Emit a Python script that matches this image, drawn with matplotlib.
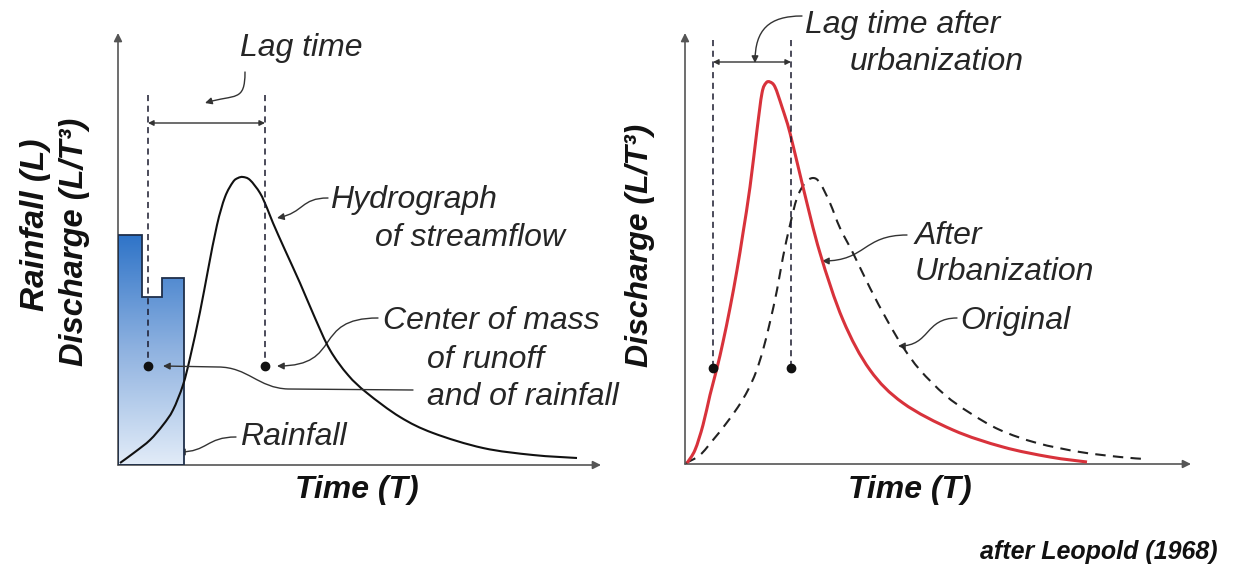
import numpy as np
import matplotlib
matplotlib.use("Agg")
import matplotlib.pyplot as plt
from matplotlib.path import Path
from matplotlib.patches import FancyArrowPatch, Polygon, PathPatch

plt.rcParams['font.family'] = ['Liberation Sans', 'DejaVu Sans']

# ---- data (arbitrary time / discharge units) ----
rain_edges = [0, 2.4, 4.4, 6.6]
rain_depth = [23.0, 16.8, 18.7]

hydro_t = [0.2, 1.7, 3.2, 4.5, 5.5, 6.5, 7.2, 8.2, 9.0, 9.9, 10.7, 11.5, 12.0, 12.5,
           13.2, 14.2, 14.9, 15.5, 16.7, 18.2, 19.7, 21.2, 23.0, 24.9, 28.2, 31.5,
           36.5, 41.5, 45.9]
hydro_q = [0.2, 1.3, 2.5, 4.0, 5.5, 8.0, 10.7, 15.3, 19.5, 24.0, 26.8, 28.3, 28.7, 28.8,
           28.5, 27.2, 25.7, 24.2, 21.5, 18.2, 14.7, 11.5, 9.0, 7.2, 4.8, 3.2,
           1.7, 1.0, 0.7]

urban_t = [0.2, 1.0, 1.8, 2.5, 3.2, 3.8, 4.5, 5.2, 5.8, 6.5, 7.2, 7.7, 8.1, 8.5,
           9.0, 9.7, 10.5, 11.8, 13.5, 15.8, 18.5, 21.8, 26.8, 31.8, 36.5, 40.2]
urban_q = [0.1, 1.4, 3.9, 6.9, 9.6, 12.2, 15.6, 19.4, 23.1, 27.7, 33.4, 37.1, 38.1, 38.2,
           37.7, 35.7, 33.1, 27.7, 21.1, 14.4, 9.4, 6.1, 3.4, 1.7, 0.7, 0.2]

orig_t = [0.1, 1.5, 2.8, 4.0, 5.3, 6.3, 7.1, 7.8, 8.5, 9.2, 9.8, 10.5, 11.2, 12.0, 12.8,
          13.5, 14.5, 15.5, 16.8, 18.5, 20.2, 21.8, 23.5, 26.0, 28.5, 31.5, 35.2,
          39.5, 43.5, 46.0]
orig_q = [0.1, 0.9, 2.4, 3.9, 5.7, 7.4, 9.2, 11.4, 14.2, 17.4, 20.7, 23.9, 26.6, 28.1, 28.6,
          28.1, 26.1, 23.6, 21.1, 17.6, 14.4, 11.7, 9.4, 6.9, 5.1, 3.4, 2.1,
          1.2, 0.7, 0.5]

# centres of mass (rainfall, runoff) used for the lag bars
lag_left = [3.0, 14.7]
lag_right = [2.8, 10.6]

W, H = 1245, 569
fig = plt.figure(figsize=(W / 100, H / 100), dpi=100)

TXT = '#262626'
AX = '#555555'
fs = 23


def make_ax(x0, x1, y0, y1):
    ax = fig.add_axes([x0 / W, (H - y0) / H, (x1 - x0) / W, (y0 - y1) / H])
    ax.set_xlim(0, (x1 - x0) / 10)
    ax.set_ylim(0, (y0 - y1) / 10)
    ax.axis('off')
    for xy in [(0, 1), (1, 0)]:
        ax.annotate('', xy=xy, xytext=(0, 0), xycoords='axes fraction',
                    arrowprops=dict(arrowstyle='-|>', color=AX, lw=1.2, mutation_scale=12,
                                    shrinkA=0, shrinkB=0))
    return ax


def smooth_curve(ax, xs, ys, **kw):
    # smooth line through the read points (Catmull-Rom as cubic Bezier segments)
    p = np.column_stack([xs, ys]).astype(float)
    ext = np.vstack([p[0], p, p[-1]])
    verts = [tuple(p[0])]
    codes = [Path.MOVETO]
    for i in range(1, len(ext) - 2):
        c1 = ext[i] + (ext[i + 1] - ext[i - 1]) / 6
        c2 = ext[i + 1] - (ext[i + 2] - ext[i]) / 6
        verts += [tuple(c1), tuple(c2), tuple(ext[i + 1])]
        codes += [Path.CURVE4] * 3
    ax.add_patch(PathPatch(Path(verts, codes), facecolor='none', **kw))


def squiggle(ax, p0, p3, tan0=(1, 0), tan1=(1, 0), k=0.5, lw=1.0):
    # S-shaped leader line with an arrow head at p3
    d = np.hypot(p3[0] - p0[0], p3[1] - p0[1]) * k
    p1 = (p0[0] + tan0[0] * d, p0[1] + tan0[1] * d)
    p2 = (p3[0] - tan1[0] * d, p3[1] - tan1[1] * d)
    path = Path([p0, p1, p2, p3], [Path.MOVETO, Path.CURVE4, Path.CURVE4, Path.CURVE4])
    ax.add_patch(FancyArrowPatch(path=path, arrowstyle='-|>', mutation_scale=10,
                                 color='#333333', lw=lw, clip_on=False))


def lag_marks(ax, xs, top, dot_y, bar_y):
    for x in xs:
        ax.plot([x, x], [top, dot_y], ls=(0, (4, 3)), color='#1a1a2e', lw=1.1, zorder=4)
        ax.plot(x, dot_y, 'o', color='#111111', ms=6, zorder=5)
    ax.annotate('', xy=(xs[1], bar_y), xytext=(xs[0], bar_y),
                arrowprops=dict(arrowstyle='<|-|>', color='#333333', lw=1.0,
                                mutation_scale=8, shrinkA=0, shrinkB=0))


def label(ax, x, y, s, **kw):
    ax.text(x, y, s, style='italic', fontsize=fs, color=TXT, va='center', **kw)


# ---------------- left panel ----------------
axl = make_ax(118, 601, 465, 33)

# rainfall hyetograph with vertical gradient
outline = [(rain_edges[0], 0)]
for i, d in enumerate(rain_depth):
    outline += [(rain_edges[i], d), (rain_edges[i + 1], d)]
outline += [(rain_edges[-1], 0)]
poly = Polygon(outline, closed=True, facecolor='none', edgecolor='#1f2f4a', lw=1.3, zorder=3)
axl.add_patch(poly)
grad = np.linspace(0, 1, 256).reshape(-1, 1)
cmap = matplotlib.colors.LinearSegmentedColormap.from_list('rain', ['#e2ecf8', '#8fb2e0', '#2f74c8'])
im = axl.imshow(grad, cmap=cmap, origin='lower', aspect='auto',
                extent=[0, rain_edges[-1], 0, max(rain_depth)], zorder=2)
im.set_clip_path(poly)

smooth_curve(axl, hydro_t, hydro_q, edgecolor='#111111', lw=1.5, zorder=4)

lag_marks(axl, lag_left, 37.0, 9.9, 34.2)

label(axl, 18.3, 41.7, 'Lag time', ha='center')
squiggle(axl, (12.7, 39.3), (8.7, 36.2), tan0=(0, -1), tan1=(-1, -0.3), k=0.6)

label(axl, 21.2, 26.5, 'Hydrograph')
label(axl, 25.7, 22.7, 'of streamflow')
squiggle(axl, (21.0, 26.7), (15.9, 24.7), tan0=(-1, 0), tan1=(-1, -0.2), k=0.5)

label(axl, 26.5, 14.4, 'Center of mass')
label(axl, 30.9, 10.5, 'of runoff')
label(axl, 30.9, 6.8, 'and of rainfall')
squiggle(axl, (26.0, 14.7), (15.9, 9.9), tan0=(-1, 0), tan1=(-1, 0), k=0.6)

rpath = Path([(29.5, 7.5), (17.0, 7.6), (14.0, 7.7), (13.0, 9.8), (10.0, 9.8), (4.5, 9.9)],
             [Path.MOVETO, Path.LINETO, Path.CURVE4, Path.CURVE4, Path.CURVE4, Path.LINETO])
axl.add_patch(FancyArrowPatch(path=rpath, arrowstyle='-|>', mutation_scale=10,
                              color='#333333', lw=1.0, clip_on=False, zorder=6))

label(axl, 12.2, 2.8, 'Rainfall')
squiggle(axl, (11.8, 2.8), (6.0, 1.3), tan0=(-1, 0), tan1=(-1, 0), k=0.5)

axl.text(23.9, -2.5, 'Time (T)', style='italic', weight='bold', fontsize=fs, color='#111111',
         ha='center', va='center')

fig.text(36 / W, 1 - 225 / H, 'Rainfall (L)', rotation=90, style='italic', weight='bold',
         fontsize=24, color='#111111', ha='center', va='center')
fig.text(75 / W, 1 - 242 / H, 'Discharge (L/T³)', rotation=90, style='italic', weight='bold',
         fontsize=23.5, color='#111111', ha='center', va='center')

# ---------------- right panel ----------------
axr = make_ax(685, 1191, 464, 33)

smooth_curve(axr, orig_t, orig_q, edgecolor='#222222', lw=1.5, ls=(0, (5, 3.5)), zorder=3)
smooth_curve(axr, urban_t, urban_q, edgecolor='#d8323b', lw=2.2, zorder=4)

lag_marks(axr, lag_right, 42.4, 9.6, 40.2)

label(axr, 12.0, 43.9, 'Lag time after')
label(axr, 16.5, 40.2, 'urbanization')
squiggle(axr, (11.7, 44.8), (7.0, 40.1), tan0=(-1, 0), tan1=(0, -1), k=0.5)

label(axr, 23.0, 22.8, 'After')
label(axr, 23.0, 19.2, 'Urbanization')
squiggle(axr, (22.2, 22.9), (13.7, 20.3), tan0=(-1, 0), tan1=(-1, 0), k=0.5)

label(axr, 27.5, 14.3, 'Original')
squiggle(axr, (27.2, 14.6), (21.3, 11.8), tan0=(-1, 0), tan1=(-1, 0), k=0.5)

axr.text(22.5, -2.6, 'Time (T)', style='italic', weight='bold', fontsize=fs, color='#111111',
         ha='center', va='center')

fig.text(640 / W, 1 - 245 / H, 'Discharge (L/T³)', rotation=90, style='italic', weight='bold',
         fontsize=23, color='#111111', ha='center', va='center')

fig.text(1218 / W, 1 - 552 / H, 'after Leopold (1968)', style='italic', weight='bold',
         fontsize=18, color='#111111', ha='right', va='center')

fig.savefig('out.png', dpi=100, facecolor='white')
